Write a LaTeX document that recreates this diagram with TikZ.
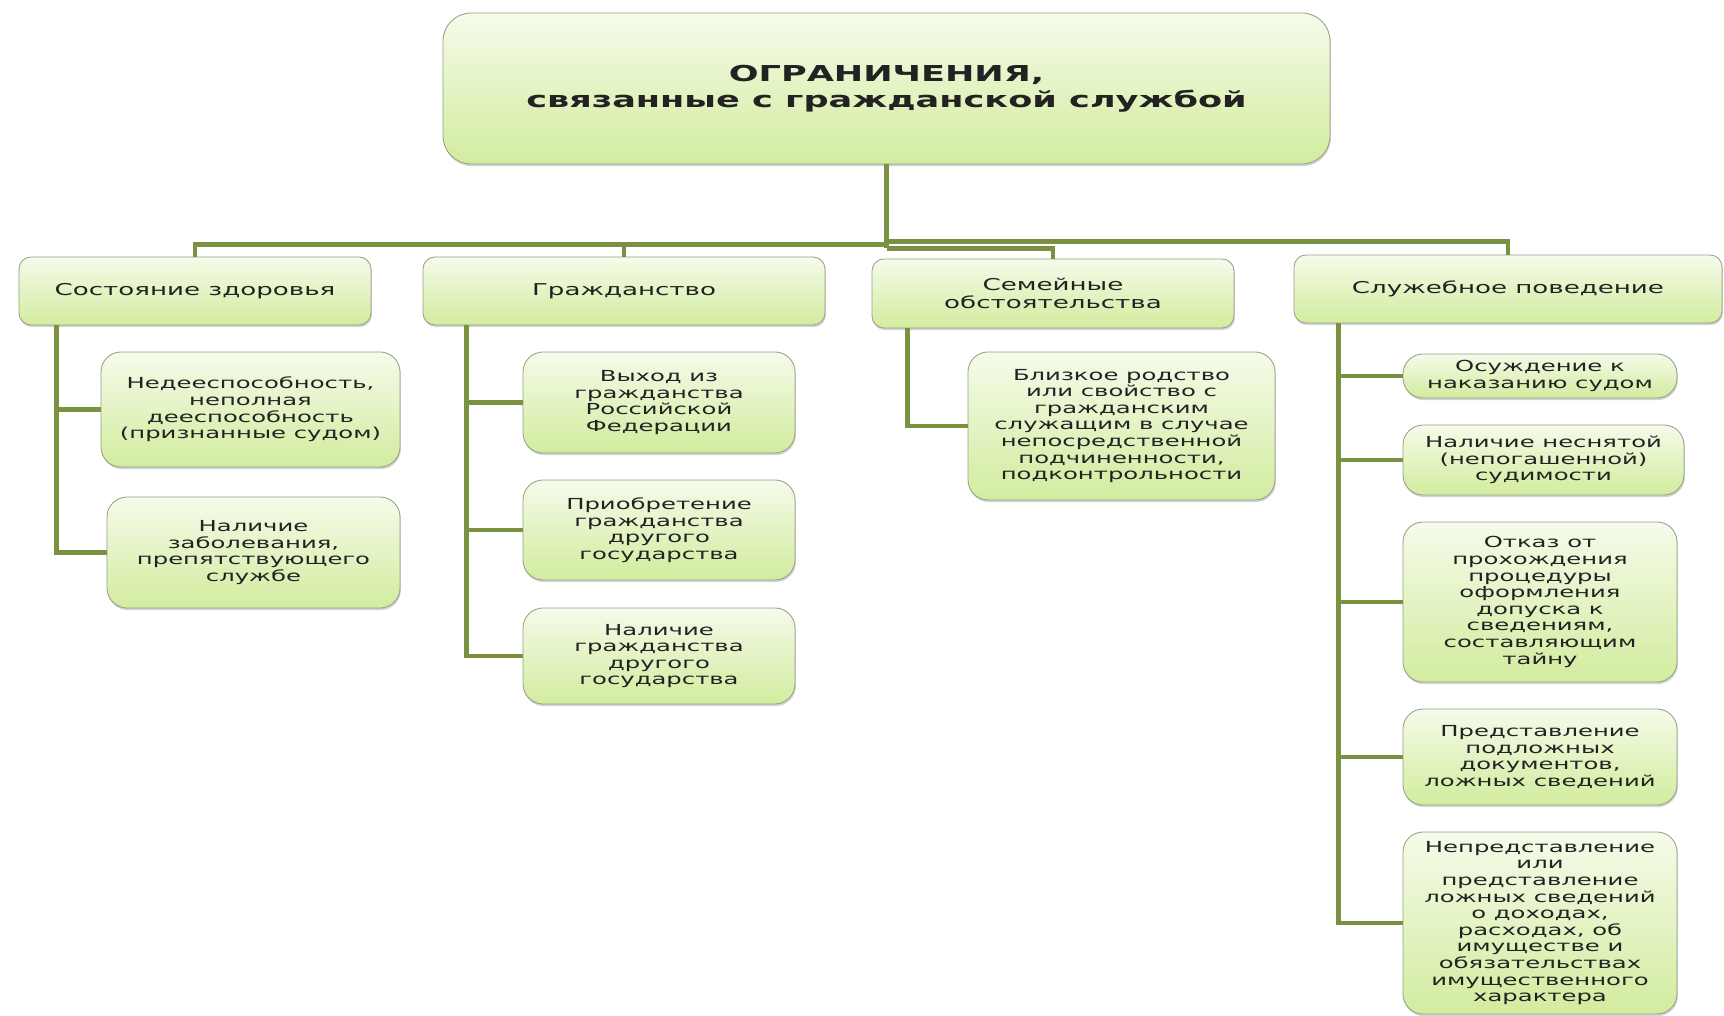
\documentclass[tikz,border=0pt]{standalone}
\usepackage{fontspec}
\setmainfont{DejaVu Sans}
\newfontfamily\boxfont[FakeStretch=1.6]{DejaVu Sans}
\usetikzlibrary{shadows}

\begin{document}
\begin{tikzpicture}[x=0.025cm, y=-0.025cm,
	link/.style={draw=stem, line width=3.5pt},
	card/.style={draw=rim, line width=0.6pt, top color=paleA, bottom color=paleB, align=center, text=ink, inner sep=2pt,
		drop shadow={shadow xshift=0.6pt, shadow yshift=-1.5pt, opacity=.35},
		rounded corners=0.5cm, font=\boxfont\fontsize{10.8}{11.8}\selectfont},
	head/.style={card, rounded corners=0.3cm, font=\boxfont\fontsize{11.6}{13.3}\selectfont},
	title/.style={card, rounded corners=0.7cm, font=\boxfont\bfseries\fontsize{15.6}{18.7}\selectfont}]
	\definecolor{stem}{RGB}{122, 145, 66}
	\definecolor{rim}{RGB}{150, 160, 135}
	\definecolor{paleA}{RGB}{245, 251, 234}
	\definecolor{paleB}{RGB}{210, 236, 158}
	\definecolor{ink}{RGB}{34, 34, 34}

	\useasboundingbox (0, 0) rectangle (1724, 1016);

	% \drawbox#name#style#x#y#width#height#label
	\def\drawbox#1#2#3#4#5#6#7{
		\pgfmathsetmacro\bw{#5*0.025}
		\pgfmathsetmacro\bh{#6*0.025}
		\node[#2, minimum width=\bw cm, minimum height=\bh cm] (#1) at (#3 + #5 / 2, #4 + #6 / 2) {#7};
	}

	% boxes
	\drawbox{root}{title}{443}{13}{887}{151}{ОГРАНИЧЕНИЯ,\\ связанные с гражданской службой}

	\drawbox{health}{head}{19}{257}{352}{68}{Состояние здоровья}
	\drawbox{cit}{head}{423}{257}{402}{68}{Гражданство}
	\drawbox{family}{head}{872}{259}{362}{69}{Семейные\\обстоятельства}
	\drawbox{conduct}{head}{1294}{255}{428}{68}{Служебное поведение}

	\drawbox{incap}{card}{101}{352}{299}{115}{Недееспособность,\\неполная\\дееспособность\\(признанные судом)}
	\drawbox{ill}{card}{107}{497}{293}{111}{Наличие\\заболевания,\\препятствующего\\службе}

	\drawbox{exit}{card}{523}{352}{272}{101}{Выход из\\гражданства\\Российской\\Федерации}
	\drawbox{acquire}{card}{523}{480}{272}{100}{Приобретение\\гражданства\\другого\\государства}
	\drawbox{dual}{card}{523}{608}{272}{96}{Наличие\\гражданства\\другого\\государства}

	\drawbox{kin}{card}{968}{352}{307}{148}{Близкое родство\\или свойство с\\гражданским\\служащим в случае\\непосредственной\\подчиненности,\\подконтрольности}

	\drawbox{convict}{card}{1403}{354}{274}{44}{Осуждение к\\наказанию судом}
	\drawbox{record}{card}{1403}{425}{281}{70}{Наличие неснятой\\(непогашенной)\\судимости}
	\drawbox{refuse}{card}{1403}{522}{274}{160}{Отказ от\\прохождения\\процедуры\\оформления\\допуска к\\сведениям,\\составляющим\\тайну}
	\drawbox{forged}{card}{1403}{709}{274}{96}{Представление\\подложных\\документов,\\ложных сведений}
	\drawbox{income}{card}{1403}{832}{274}{182}{Непредставление\\или\\представление\\ложных сведений\\о доходах,\\расходах, об\\имуществе и\\обязательствах\\имущественного\\характера}

	% connectors
	\draw[link] (root.south) -- ++(0, 84) coordinate (bus3);
	\coordinate (bus1) at ([yshift=-77*0.025cm]root.south);
	\coordinate (bus2) at ([yshift=-80*0.025cm]root.south);
	\draw[link] (conduct.north) |- (bus1);
	\draw[link] (health.north) |- (bus2);
	\draw[link] (cit.north) |- (bus2);
	\draw[link] (family.north) |- (bus3);

	\foreach \leaf in {incap, ill}
		\draw[link] ([xshift=0.95cm]health.south west) |- (\leaf.west);
	\foreach \leaf in {exit, acquire, dual}
		\draw[link] ([xshift=1.1cm]cit.south west) |- (\leaf.west);
	\draw[link] ([xshift=0.9cm]family.south west) |- (kin.west);
	\foreach \leaf in {convict, record, refuse, forged, income}
		\draw[link] ([xshift=1.125cm]conduct.south west) |- (\leaf.west);
\end{tikzpicture}
\end{document}
